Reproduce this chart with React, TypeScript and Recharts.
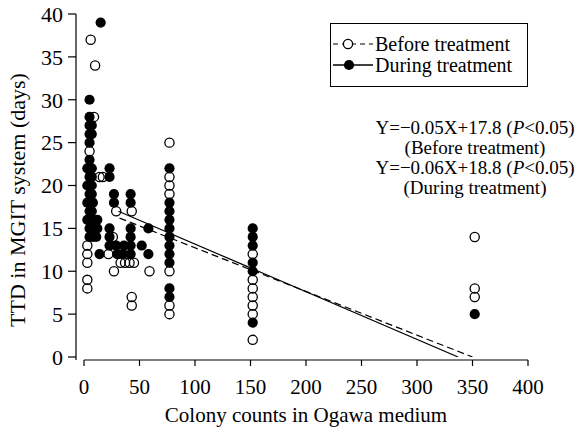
import { ReferenceLine, Legend, Scatter, ScatterChart, XAxis, YAxis } from "recharts";

const FONT = '"Liberation Serif", "Times New Roman", serif';

const xTicks = [0, 50, 100, 150, 200, 250, 300, 350, 400];
const yTicks = [0, 5, 10, 15, 20, 25, 30, 35, 40];

const seriesNames = ["Before treatment", "During treatment"];
const fitText = ["Y=\u22120.05X+17.8", "Y=\u22120.06X+18.8"];
const fitP = "<0.05";

// [colony count, TTD days]
const beforePoints: [number, number][] = [
  [6, 37], [10, 34], [9, 28], [5, 24], [14, 21], [17, 21],
  [3, 13], [3, 12], [3, 11], [3, 9], [3, 8],
  [29, 17], [43, 17], [26, 14], [22, 12], [27, 10],
  [33, 11], [37, 11], [41, 11], [45, 11], [43, 7], [43, 6], [59, 10],
  [77, 25], [77, 21], [77, 20], [77, 19], [77, 10], [77, 6], [77, 5],
  [152, 12], [152, 9], [152, 8], [152, 7], [152, 6], [152, 5], [152, 2],
  [352, 14], [352, 8], [352, 7],
];

const duringPoints: [number, number][] = [
  [15, 39], [5, 30],
  [5, 14], [5, 15], [5, 16], [5, 17], [5, 18], [5, 19], [5, 20], [5, 21],
  [5, 22], [5, 23], [5, 25], [5, 26], [5, 27], [5, 28],
  [7, 15], [7, 17], [7, 19], [7, 20], [7, 21], [7, 22], [7, 26], [7, 27],
  [8, 14], [8, 16], [8, 18], [3, 16], [3, 18], [3, 20], [3, 22],
  [11, 14], [12, 15], [12, 16], [14, 12],
  [23, 22], [23, 21], [27, 19], [27, 18], [42, 19], [42, 18],
  [23, 15], [23, 14], [23, 13], [29, 13], [30, 12], [36, 13], [35, 12],
  [42, 15], [42, 14], [42, 13], [42, 12], [52, 13], [58, 15], [58, 12],
  [77, 22], [77, 18], [77, 17], [77, 16], [77, 15], [77, 14], [77, 13],
  [77, 12], [77, 11], [77, 8], [77, 7],
  [152, 15], [152, 14], [152, 13], [152, 11], [152, 10], [152, 4],
  [352, 5],
];

// regression line end points as drawn
const beforeFit: [number, number][] = [[32, 16.2], [350, 0]];
const duringFit: [number, number][] = [[31, 17], [337, 0]];

const rows = (pts: [number, number][]) => pts.map(([x, y]) => ({ x, y }));

const OpenDot = (p: any) => (
  <circle cx={p.cx} cy={p.cy} r={4.6} fill="none" stroke="#000" strokeWidth={1.3} />
);
const FilledDot = (p: any) => <circle cx={p.cx} cy={p.cy} r={5.1} fill="#000" />;
const NoDot = () => <g />;

const XTitle = (props: any) => {
  const vb = props.viewBox;
  return (
    <text
      x={vb.x + 4 + vb.width / 2}
      y={422}
      textAnchor="middle"
      fontFamily={FONT}
      fontSize={21}
      fill="#000"
    >
      Colony counts in Ogawa medium
    </text>
  );
};

const YTitle = (props: any) => {
  const vb = props.viewBox;
  const cy = vb.y + vb.height / 2 + 13;
  return (
    <text
      x={17}
      y={cy}
      transform={`rotate(-90, 17, ${cy})`}
      textAnchor="middle"
      dominantBaseline="central"
      fontFamily={FONT}
      fontSize={22}
      fill="#000"
    >
      TTD in MGIT system (days)
    </text>
  );
};

const LegendBlock = () => (
  <div style={{ position: "relative", width: 252, height: 190, fontFamily: FONT, color: "#000" }}>
    <div
      style={{
        position: "absolute",
        left: 0,
        top: 0,
        width: 198,
        height: 64,
        border: "1px solid #000",
        boxSizing: "border-box",
      }}
    >
      {seriesNames.map((name, i) => (
        <div
          key={name}
          style={{
            position: "absolute",
            left: 2,
            top: 9 + i * 21,
            height: 22,
            display: "flex",
            alignItems: "center",
            whiteSpace: "nowrap",
          }}
        >
          <svg width={40} height={22}>
            {i === 0 ? (
              <>
                <line x1={0} x2={40} y1={11} y2={11} stroke="#000" strokeWidth={1.2} strokeDasharray="5 4" />
                <circle cx={15} cy={11} r={4.6} fill="#fff" stroke="#000" strokeWidth={1.3} />
              </>
            ) : (
              <>
                <line x1={0} x2={40} y1={11} y2={11} stroke="#000" strokeWidth={1.3} />
                <circle cx={16} cy={11} r={5.1} fill="#000" />
              </>
            )}
          </svg>
          <span style={{ fontSize: 20, lineHeight: "22px", marginLeft: 2 }}>{name}</span>
        </div>
      ))}
    </div>
    <div
      style={{
        position: "absolute",
        left: 40,
        top: 95,
        width: 210,
        textAlign: "center",
        fontSize: 19,
        lineHeight: "20px",
        whiteSpace: "nowrap",
      }}
    >
      {seriesNames.map((name, i) => (
        <div key={name}>
          <div>
            {fitText[i]} (<i>P</i>
            {fitP})
          </div>
          <div>({name})</div>
        </div>
      ))}
    </div>
  </div>
);

const axisStroke = { stroke: "#000", strokeWidth: 1.2 };

export default function App() {
  return (
    <div style={{ position: "absolute", left: 0, top: 0 }}>
      <ScatterChart width={582} height={432} margin={{ top: 14, right: 54, bottom: 0, left: 0 }}>
        <XAxis
          type="number"
          dataKey="x"
          domain={[0, 400]}
          ticks={xTicks}
          interval={0}
          padding={{ left: 8, right: 0 }}
          axisLine={false}
          tickLine={axisStroke}
          tickSize={6}
          tickMargin={13}
          height={72}
          tick={{ fill: "#000", fontSize: 21, fontFamily: FONT }}
          label={<XTitle />}
        />
        <YAxis
          type="number"
          dataKey="y"
          domain={[0, 40]}
          ticks={yTicks}
          interval={0}
          allowDataOverflow
          padding={{ top: 0, bottom: 3 }}
          width={76}
          axisLine={axisStroke}
          tickLine={axisStroke}
          tickSize={8}
          tickMargin={5}
          tick={{ fill: "#000", fontSize: 22, fontFamily: FONT }}
          label={<YTitle />}
        />
        <ReferenceLine
          segment={[{ x: 0, y: -0.35 }, { x: 400, y: -0.35 }]}
          stroke="#000"
          strokeWidth={1.2}
          ifOverflow="visible"
        />
        <Scatter
          data={rows(beforeFit)}
          fill="#000"
          line={{ stroke: "#000", strokeWidth: 1.2, strokeDasharray: "7 4" }}
          shape={<NoDot />}
          legendType="none"
          isAnimationActive={false}
        />
        <Scatter
          data={rows(duringFit)}
          fill="#000"
          line={{ stroke: "#000", strokeWidth: 1.2 }}
          shape={<NoDot />}
          legendType="none"
          isAnimationActive={false}
        />
        <Scatter name={seriesNames[0]} data={rows(beforePoints)} shape={<OpenDot />} isAnimationActive={false} />
        <Scatter name={seriesNames[1]} data={rows(duringPoints)} shape={<FilledDot />} isAnimationActive={false} />
        <Legend
          layout="horizontal"
          verticalAlign="middle"
          align="center"
          content={<LegendBlock />}
          wrapperStyle={{ left: 330, top: 23, width: 252, height: 190 }}
        />
      </ScatterChart>
    </div>
  );
}
